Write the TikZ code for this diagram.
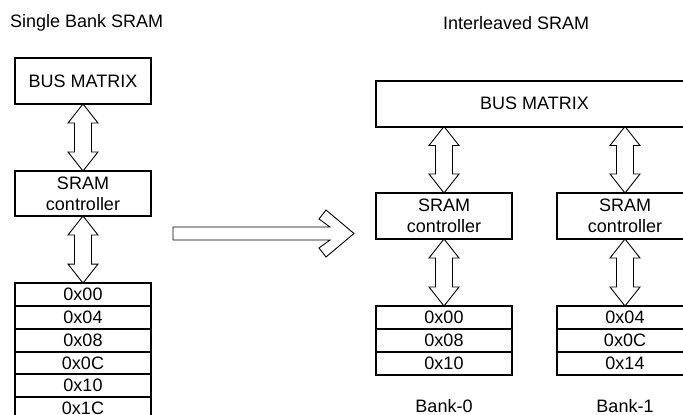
\documentclass[tikz,border=0pt]{standalone}
\usepackage{fontspec}
\setmainfont{Liberation Sans}
\usetikzlibrary{positioning,calc}
% hollow two-headed bus arrow between two points on one vertical
\newcommand\fatarrow[2]{%
  \draw[fat] let \p1=#1, \p2=#2 in
    (\x1,\y1) -- (\x1-15pt,\y1-19pt) -- (\x1-8.5pt,\y1-19pt) -- (\x1-8.5pt,\y2+19pt)
    -- (\x1-15pt,\y2+19pt) -- (\x1,\y2) -- (\x1+15pt,\y2+19pt) -- (\x1+8.5pt,\y2+19pt)
    -- (\x1+8.5pt,\y1-19pt) -- (\x1+15pt,\y1-19pt) -- cycle;}
\begin{document}
\begin{tikzpicture}[x=1pt,y=-1pt,font=\fontsize{18}{21}\selectfont,
    box/.style={draw,line width=2pt,minimum width=136pt,minimum height=46pt,align=center,inner sep=0pt,outer sep=0pt},
    cell/.style={draw,line width=2pt,minimum width=136pt,minimum height=23pt,inner sep=0pt,outer sep=0pt},
    fat/.style={line width=0.9pt,line join=miter}]
    \useasboundingbox (0,0) rectangle (683,415);
    \clip (0,0) rectangle (683,415);
    % single bank
    \node[anchor=west,inner sep=0pt] (tl) at (10,23) {Single Bank SRAM};
    \node[box] (bm) at (83,81) {BUS MATRIX};
    \node[box,minimum height=45pt] (ctl) at (83,193.5) {SRAM\\controller};
    \node[cell,minimum height=22.8pt] (m0) at (83,294.5) {0x00};
    \node[cell,minimum height=22.8pt,below=0pt of m0] (m1) {0x04};
    \node[cell,minimum height=22.8pt,below=0pt of m1] (m2) {0x08};
    \node[cell,minimum height=22.8pt,below=0pt of m2] (m3) {0x0C};
    \node[cell,minimum height=22.8pt,below=0pt of m3] (m4) {0x10};
    \node[cell,minimum height=22.8pt,below=0pt of m4] (m5) {0x1C};
    \fatarrow{(bm.south)}{(ctl.north)}
    \fatarrow{(ctl.south)}{(m0.north)}
    % big arrow
    \draw[fat] (173,227) -- (330,227) -- (319,219) -- (326,210) -- (354,233.5) -- (326,257)
        -- (319,248) -- (330,240) -- (173,240) -- cycle;
    % interleaved
    \node[anchor=west,inner sep=0pt] (tr) at (443,23) {Interleaved SRAM};
    \node[box,minimum width=317pt] (rbm) at (534.5,103.5) {BUS MATRIX};
    \node[box] (ca) at (444,216) {SRAM\\controller};
    \node[box] (cb) at (625,216) {SRAM\\controller};
    \node[cell] (a0) at (444,317.5) {0x00};
    \node[cell,below=0pt of a0] (a1) {0x08};
    \node[cell,below=0pt of a1] (a2) {0x10};
    \node[cell] (b0) at (625,317.5) {0x04};
    \node[cell,below=0pt of b0] (b1) {0x0C};
    \node[cell,below=0pt of b1] (b2) {0x14};
    \node[inner sep=0pt] (ba) at (444,406.5) {Bank-0};
    \node[inner sep=0pt] (bb) at (625,406.5) {Bank-1};
    \fatarrow{(ca |- rbm.south)}{(ca.north)}
    \fatarrow{(cb |- rbm.south)}{(cb.north)}
    \fatarrow{(ca.south)}{(a0.north)}
    \fatarrow{(cb.south)}{(b0.north)}
\end{tikzpicture}
\end{document}
